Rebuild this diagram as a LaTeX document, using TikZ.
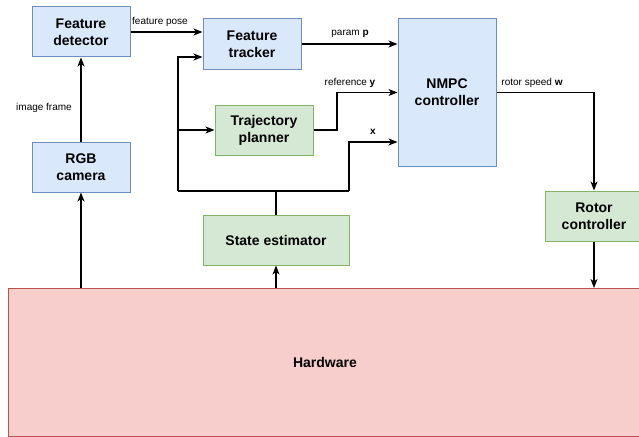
\documentclass[tikz,border=0pt]{standalone}
\usepackage{fontspec}
\setmainfont{Liberation Sans}
\usetikzlibrary{arrows.meta}
\definecolor{bluefill}{HTML}{DAE8FC}
\definecolor{bluedraw}{HTML}{6C8EBF}
\definecolor{greenfill}{HTML}{D5E8D4}
\definecolor{greendraw}{HTML}{82B366}
\definecolor{redfill}{HTML}{F8CECC}
\definecolor{reddraw}{HTML}{B85450}
\begin{document}
\begin{tikzpicture}[x=1pt,y=-1pt,
  block/.style={draw, line width=1pt, minimum width=98pt, minimum height=50pt,
    inner sep=0pt, align=center, font=\fontsize{14}{16.8}\selectfont\bfseries},
  blue/.style={block, fill=bluefill, draw=bluedraw},
  green/.style={block, fill=greenfill, draw=greendraw},
  wire/.style={line width=1.1pt, draw=black},
  arr/.style={wire, -{Stealth[length=9pt,width=7pt,inset=2.5pt]}},
  lbl/.style={font=\fontsize{10}{12}\selectfont, inner sep=0pt}]
\useasboundingbox (0,0) rectangle (639,436);
\clip (0,0) rectangle (639,436);

% blocks
\node[blue] (det) at (81,32) {Feature\\detector};
\node[blue] (cam) at (81,167) {RGB\\camera};
\node[blue] (trk) at (252,44) {Feature\\tracker};
\node[green] (pln) at (264,130) {Trajectory\\planner};
\node[blue, minimum height=147pt] (nmpc) at (447,92.5) {NMPC\\controller};
\node[green] (rot) at (594,216) {Rotor\\controller};
\node[green, minimum width=146pt] (est) at (276,240) {State estimator};
\node[block, fill=redfill, draw=reddraw, minimum width=634pt, minimum height=148pt]
  (hw) at (325,362.5) {Hardware};

% feedback bus from the state estimator
\coordinate (fbM) at (276,191);
\coordinate (fbL) at (178,191);
\coordinate (fbR) at (349,191);
\coordinate (fbT) at (178,57);
\coordinate (xin) at (349,142);
\draw[wire] (est.north) -- (fbM);
\draw[wire] (fbL) -- (fbR);
\draw[arr] (fbL) -- (fbT) -- (fbT -| trk.west);
\draw[arr] (fbL |- pln.west) -- (pln.west);
\draw[arr] (fbR) -- (xin) -- (xin -| nmpc.west);

% forward paths
\draw[arr] (cam.south |- hw.north) -- (cam.south);
\draw[arr] (cam.north) -- (det.south);
\draw[arr] (det.east) -- (det.east -| trk.west);
\draw[arr] (trk.east) -- (trk.east -| nmpc.west);
\coordinate (ref) at (337,130);
\draw[arr] (pln.east) -- (ref) -- (ref |- nmpc.west) -- (nmpc.west);
\draw[arr] (nmpc.east) -- (nmpc.east -| rot.north) -- (rot.north);
\draw[arr] (rot.south) -- (rot.south |- hw.north);
\draw[arr] (est.south |- hw.north) -- (est.south);

% signal labels
\node[lbl] (l1) at (160,22) {feature pose};
\node[lbl] (l2) at (44,108) {image frame};
\node[lbl] (l3) at (350,34) {param \textbf{p}};
\node[lbl] (l4) at (350,83) {reference \textbf{y}};
\node[lbl] (l5) at (373,132) {\textbf{x}};
\node[lbl] (l6) at (532,83) {rotor speed \textbf{w}};
\end{tikzpicture}
\end{document}
